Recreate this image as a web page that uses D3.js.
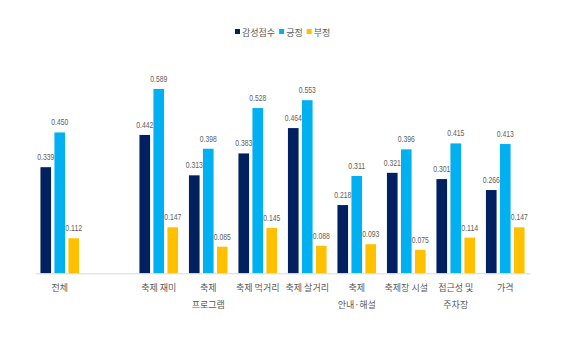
<!DOCTYPE html>
<html>
<head>
<meta charset="utf-8">
<script src="https://cdn.jsdelivr.net/npm/d3@7/dist/d3.min.js"></script>
<style>
  html, body { margin: 0; padding: 0; background: #fff; }
  svg { display: block; }
  text { font-family: "Noto Sans CJK KR", "Noto Sans", sans-serif; fill: #595959; }
  .num { font-family: "Liberation Sans", "DejaVu Sans", sans-serif; fill: #606060; }
</style>
</head>
<body>
<svg id="chart" width="564" height="338"></svg>
<script>
// Categories (an empty slot separates the overall score from the items)
const categories = ["전체", "", "축제 재미", "축제\n프로그램", "축제 먹거리", "축제 살거리", "축제\n안내·해설", "축제장 시설", "접근성 및\n주차장", "가격"];
const seriesNames = ["감성점수", "긍정", "부정"];
const sentiment = [0.339, null, 0.442, 0.313, 0.383, 0.464, 0.218, 0.321, 0.301, 0.266];
const positive  = [0.450, null, 0.589, 0.398, 0.528, 0.553, 0.311, 0.396, 0.415, 0.413];
const negative  = [0.112, null, 0.147, 0.085, 0.145, 0.088, 0.093, 0.075, 0.114, 0.147];
const colors = ["#002060", "#00B0F0", "#FFC000"];

const series = [sentiment, positive, negative];
const svg = d3.select("#chart");

const margin = { left: 35, right: 34, top: 54, bottom: 64.7 };
const W = 564, H = 338;

const x = d3.scaleBand()
  .domain(d3.range(categories.length))
  .range([margin.left, W - margin.right])
  .paddingInner(0.22)
  .paddingOuter(0.11);

const xs = d3.scaleBand()
  .domain(d3.range(series.length))
  .range([0, x.bandwidth()])
  .paddingInner(0.24);

const y = d3.scaleLinear()
  .domain([0, 0.7])
  .range([H - margin.bottom, H - margin.bottom - 0.7 * 313]);

// Bars and value labels
series.forEach((vals, si) => {
  const g = svg.append("g");
  const pts = vals.map((v, i) => ({ v, i })).filter(d => d.v !== null);
  g.selectAll("rect").data(pts).join("rect")
    .attr("x", d => x(d.i) + xs(si))
    .attr("y", d => y(d.v))
    .attr("width", xs.bandwidth())
    .attr("height", d => y(0) - y(d.v))
    .attr("fill", colors[si]);
  g.selectAll("text").data(pts).join("text")
    .attr("class", "num")
    .attr("x", d => x(d.i) + xs(si) + xs.bandwidth() / 2)
    .attr("y", d => y(d.v) - 7)
    .attr("text-anchor", "middle")
    .attr("font-size", 9)
    .attr("textLength", 17)
    .attr("lengthAdjust", "spacingAndGlyphs")
    .text(d => d.v.toFixed(3));
});

// Category axis
const axis = svg.append("g")
  .attr("transform", `translate(0,${y(0)})`)
  .call(d3.axisBottom(x).tickSize(0).tickFormat(() => ""));
axis.select(".domain").attr("stroke", "#d9d9d9").attr("stroke-width", 1);

categories.forEach((c, i) => {
  if (!c) return;
  const cx = x(i) + x.bandwidth() / 2;
  const t = svg.append("text")
    .attr("x", cx)
    .attr("y", y(0) + 18)
    .attr("text-anchor", "middle")
    .attr("font-size", 9);
  c.split("\n").forEach((line, li) => {
    t.append("tspan")
      .attr("x", cx)
      .attr("dy", li === 0 ? 0 : 17)
      .text(line);
  });
});

// Legend
const legend = svg.append("g").attr("transform", "translate(235,32)");
let lx = 0;
seriesNames.forEach((name, i) => {
  const item = legend.append("g").attr("transform", `translate(${lx},0)`);
  item.append("rect").attr("x", 0).attr("y", -3).attr("width", 5).attr("height", 5).attr("fill", colors[i]);
  const txt = item.append("text").attr("x", 7).attr("y", 3.5).attr("font-size", 9).text(name);
  lx += 7 + txt.node().getComputedTextLength() + 4;
});
</script>
</body>
</html>
